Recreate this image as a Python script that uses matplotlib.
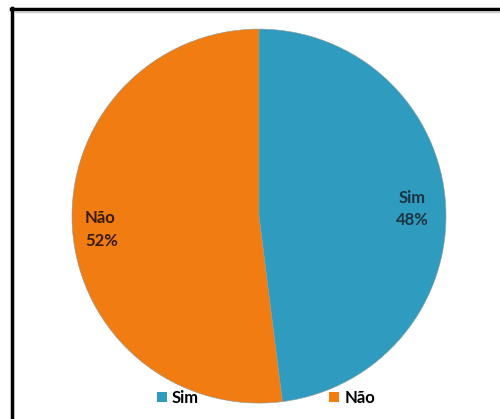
import matplotlib.pyplot as plt
from matplotlib.lines import Line2D
from matplotlib.patches import Patch

labels = ["Sim", "Não"]
values = [48, 52]
colors = ["#2f9bbf", "#f07c12"]
text_colors = ["#1c3442", "#3a1a05"]

fig = plt.figure(figsize=(5, 4.19), dpi=100)
fig.patch.set_facecolor("white")

# frame (only top and left edges show in the reference)
fig.add_artist(Line2D([0.022, 1.0], [0.978, 0.978], color="black", lw=2.5))
fig.add_artist(Line2D([0.024, 0.024], [0.0, 0.98], color="black", lw=2.5))
fig.add_artist(Line2D([0.03, 1.0], [0.971, 0.971], color="#cccccc", lw=1))

ax = fig.add_axes([0.144, 0.038, 0.748, 0.8926])
wedges, _ = ax.pie(values, colors=colors, startangle=90, counterclock=False,
                   radius=1.0,
                   wedgeprops=dict(edgecolor="#8a9aa0", linewidth=0.4))
ax.set_xlim(-1, 1)
ax.set_ylim(-1, 1)
ax.set_aspect("equal")
ax.axis("off")

# data labels
ax.text(0.82, 0.04, "%s\n%d%%" % (labels[0], values[0]), ha="center", va="center",
        fontsize=12, fontweight="bold", family="Lato", color=text_colors[0],
        linespacing=1.45)
ax.text(-0.93, -0.07, "%s\n%d%%" % (labels[1], values[1]), ha="left", va="center",
        fontsize=12, fontweight="bold", family="Lato", color=text_colors[1],
        linespacing=1.55)

handles = [Patch(facecolor=c, edgecolor="none") for c in colors]
fig.legend(handles, labels, loc="center", bbox_to_anchor=(0.532, 0.05), ncol=2,
           frameon=False, columnspacing=7.8, handlelength=0.6, handleheight=0.6,
           handletextpad=0.3, prop=dict(family="Lato", weight="bold", size=12))

fig.savefig("out.png", dpi=100, facecolor="white")
